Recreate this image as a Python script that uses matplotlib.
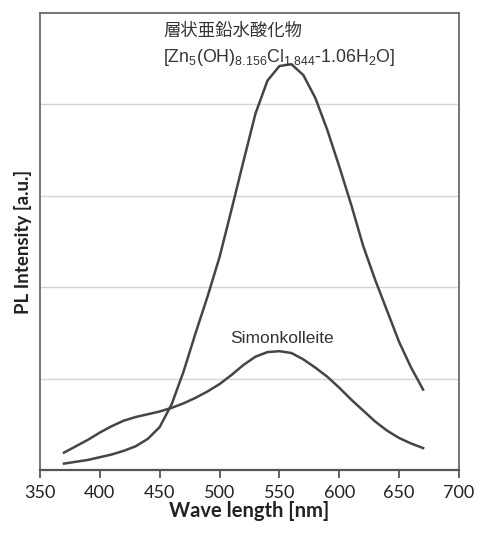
import matplotlib
matplotlib.use("Agg")
import matplotlib.pyplot as plt

wavelength = [370, 380, 390, 400, 410, 420, 430, 440, 450, 460, 470, 480, 490, 500,
              510, 520, 530, 540, 550, 560, 570, 580, 590, 600, 610, 620, 630, 640,
              650, 660, 670]
simonkolleite = [0.19, 0.26, 0.33, 0.41, 0.48, 0.54, 0.58, 0.61, 0.64, 0.68, 0.73,
                 0.79, 0.86, 0.94, 1.04, 1.15, 1.24, 1.29, 1.30, 1.28, 1.21, 1.12,
                 1.02, 0.90, 0.77, 0.65, 0.53, 0.43, 0.35, 0.29, 0.24]
layered = [0.07, 0.09, 0.11, 0.14, 0.17, 0.21, 0.26, 0.34, 0.47, 0.72, 1.08, 1.50,
           1.90, 2.33, 2.85, 3.38, 3.90, 4.26, 4.42, 4.44, 4.32, 4.07, 3.72, 3.32,
           2.90, 2.45, 2.08, 1.74, 1.40, 1.12, 0.88]
xticks = [350, 400, 450, 500, 550, 600, 650, 700]
grid_levels = [1, 2, 3, 4]

plt.rcParams['mathtext.default'] = 'regular'

W, H = 482, 536
fig = plt.figure(figsize=(W/100, H/100), dpi=100)
ax = fig.add_axes([40/W, 66/H, 419/W, 457/H])

for g in grid_levels:
    ax.axhline(g, color='#d4d4d4', lw=1.0, zorder=1)

ax.plot(wavelength, simonkolleite, color='#454545', lw=1.8, zorder=3,
        solid_joinstyle='round')
ax.plot(wavelength, layered, color='#454545', lw=1.8, zorder=3,
        solid_joinstyle='round')

ax.set_xlim(350, 700)
ax.set_ylim(0, 5)
ax.set_xticks(xticks)
ax.set_yticks([])
ax.tick_params(axis='x', direction='out', length=6, width=1.3, color='#555555',
               labelsize=13, labelcolor='#222222', pad=5)
for lab in ax.get_xticklabels():
    lab.set_family(['Lato', 'DejaVu Sans'])
for s in ax.spines.values():
    s.set_color('#6a6a6a')
    s.set_linewidth(1.3)
ax.spines['bottom'].set_color('#555555')
ax.spines['bottom'].set_linewidth(1.6)

ax.set_xlabel('Wave length [nm]', fontsize=14.5, fontweight='bold', family=['Lato', 'DejaVu Sans'],
              color='#222222', labelpad=0)
ax.set_ylabel('PL Intensity [a.u.]', fontsize=13.5, fontweight='bold', family=['Lato', 'DejaVu Sans'],
              color='#222222', labelpad=6)

fig.text(163/W, 1 - 31/H, '層状亜鉛水酸化物', fontsize=12.5,
         family=['Noto Sans CJK JP', 'DejaVu Sans'], color='#333333', va='center', ha='left')
fig.text(163/W, 1 - 57/H, r'[Zn$_5$(OH)$_{8.156}$Cl$_{1.844}$-1.06H$_2$O]', fontsize=12.8,
         family=['Liberation Sans', 'DejaVu Sans'], color='#333333', va='center', ha='left')

ax.text(552, 1.44, 'Simonkolleite', fontsize=12.5, family=['Liberation Sans', 'DejaVu Sans'],
        color='#333333', ha='center', va='center')

fig.savefig('out.png', dpi=100)
